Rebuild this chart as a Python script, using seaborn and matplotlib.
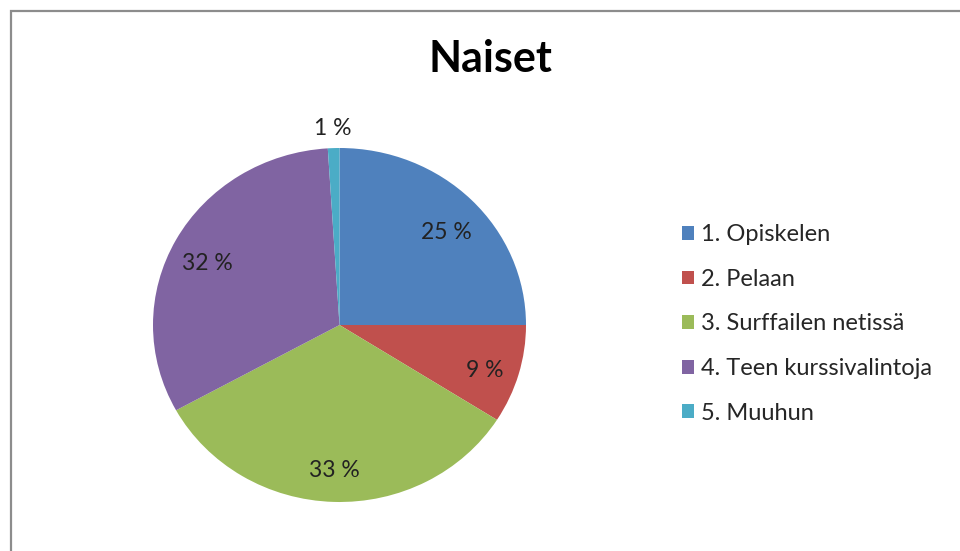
import numpy as np
import matplotlib
matplotlib.use('Agg')
import matplotlib.pyplot as plt
import seaborn as sns
from matplotlib.patches import Rectangle

# Data
categories = ['1. Opiskelen', '2. Pelaan', '3. Surffailen netissä',
              '4. Teen kurssivalintoja', '5. Muuhun']
shares = [25, 9, 33, 32, 1]
colors = ['#4F81BD', '#C0504D', '#9BBB59', '#8064A2', '#4BACC6']
title = 'Naiset'

sns.set_theme(style='white')
plt.rcParams['font.family'] = ['Lato', 'DejaVu Sans']

W, H = 960, 551
fig = plt.figure(figsize=(W / 100, H / 100), dpi=100)
fig.patch.set_facecolor('white')

# pie area in pixels (slightly wider than tall, like the original)
cx, cy, rx, ry = 339.5, 325, 186.5, 177
ax = fig.add_axes([(cx - rx) / W, (H - cy - ry) / H, 2 * rx / W, 2 * ry / H])

wedges, texts, autotexts = ax.pie(
    shares, colors=colors, startangle=90, counterclock=False,
    autopct=lambda p: f'{p:.0f} %', pctdistance=0.79,
    textprops=dict(fontsize=16.5, color='#222222'),
    wedgeprops=dict(linewidth=0))
ax.set_aspect('auto')
ax.set_xlim(-1, 1)
ax.set_ylim(-1, 1)

# small slices get their label outside the pie, others sit a bit lower
for w, t, v in zip(wedges, autotexts, shares):
    ang = np.deg2rad((w.theta1 + w.theta2) / 2)
    if v < 3:
        t.set_position((1.11 * np.cos(ang), 1.11 * np.sin(ang)))
    else:
        x, y = t.get_position()
        t.set_position((x + 0.02 * np.cos(ang), y - 0.035))

fig.text(490 / W, 1 - 59 / H, title, ha='center', va='center',
         fontsize=31, fontweight='bold', color='black')

fig.legend(wedges, categories, loc='center left',
           bbox_to_anchor=(682 / W, 1 - 324 / H), frameon=False,
           fontsize=17, handlelength=0.52, handleheight=0.52,
           handletextpad=0.3, labelspacing=1.0, borderaxespad=0,
           borderpad=0)

# chart border (gray frame that runs off the right/bottom edge)
fig.patches.append(Rectangle((10.5 / W, -0.1), 1.2, 1 - 11 / H + 0.1,
                             transform=fig.transFigure, fill=False,
                             edgecolor='#8c8c8c', linewidth=1.6))

fig.savefig('out.png', dpi=100, facecolor='white')
